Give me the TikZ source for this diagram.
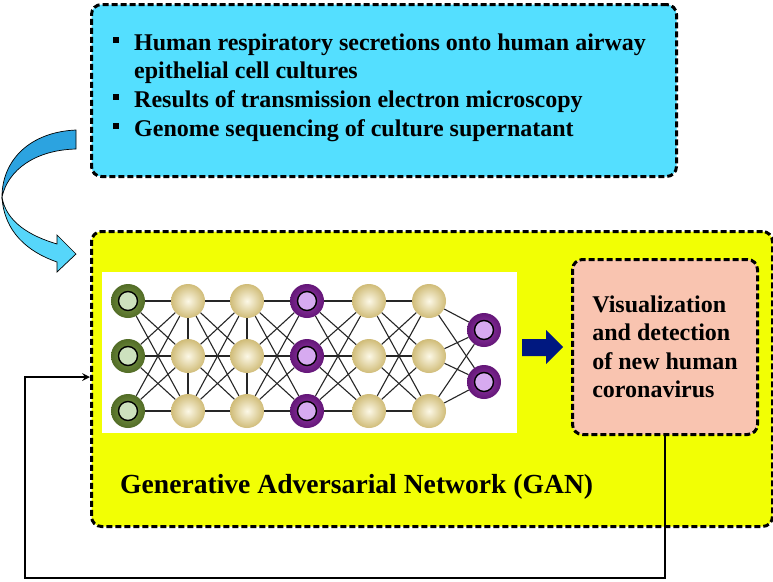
\documentclass[tikz,border=0pt]{standalone}
\usepackage{fontspec}
\setmainfont{Liberation Serif}
\usetikzlibrary{positioning}
\usetikzlibrary{calc}

\definecolor{srccyan}{RGB}{84,223,255}
\definecolor{bendback}{RGB}{44,163,224}
\definecolor{bendfront}{RGB}{86,214,250}
\definecolor{ganyellow}{RGB}{242,255,4}
\definecolor{vissalmon}{RGB}{249,196,176}
\definecolor{navyarrow}{RGB}{0,24,128}
\definecolor{tanlight}{RGB}{252,248,230}
\definecolor{tandark}{RGB}{208,188,120}
\definecolor{greenlight}{RGB}{125,155,75}
\definecolor{greendark}{RGB}{82,108,38}
\definecolor{greenring}{RGB}{205,225,190}
\definecolor{purplelight}{RGB}{150,60,170}
\definecolor{purpledark}{RGB}{100,22,120}
\definecolor{purplering}{RGB}{215,170,240}

\newcommand{\sqbullet}{\makebox[21pt][l]{\rule[7pt]{6pt}{6pt}}}

\begin{document}
\begin{tikzpicture}[x=1pt,y=-1pt,
  dashbox/.style={draw, rounded corners=10pt, dash pattern=on 6pt off 3pt,
                  line width=3pt, inner sep=0pt, anchor=north west},
  textline/.style={anchor=base west, inner sep=0pt,
                   font=\fontsize{24}{28.7}\selectfont\bfseries},
  neuron/.style={circle, minimum size=34pt, inner sep=0pt, shading=radial},
  ring/.style={path picture={\draw[line width=1.4pt, fill=#1]
                 (path picture bounding box.center) circle (9.5pt);}},
  inp/.style={neuron, inner color=greenlight, outer color=greendark, ring=greenring},
  hid/.style={neuron, inner color=tanlight, outer color=tandark},
  outp/.style={neuron, inner color=purplelight, outer color=purpledark, ring=purplering},
  link/.style={line width=1.1pt, black!85},
  feedback/.style={->, >=stealth, line width=2.4pt}]
  \useasboundingbox (0,0) rectangle (773,581);

  % source box
  \node[dashbox, fill=srccyan, minimum width=585pt, minimum height=172pt] (src) at (90,3) {};
  \node[textline] (l1) at (113,50) {\sqbullet Human respiratory secretions onto human airway};
  \node[textline] (l2) at (134,78) {epithelial cell cultures};
  \node[textline] (l3) at (113,107) {\sqbullet Results of transmission electron microscopy};
  \node[textline] (l4) at (113,136) {\sqbullet Genome sequencing of culture supernatant};

  % bent arrow
  \draw[line width=0.7pt, fill=bendback] (76,130) .. controls (30,132) and (2,160) .. (2,197)
        .. controls (8,170) and (35,150) .. (76,149) -- cycle;
  \draw[line width=0.7pt, fill=bendfront] (2,197) .. controls (4,232) and (28,252) .. (57,262)
        -- (57,272) -- (76,254) -- (57,235) -- (57,244)
        .. controls (30,236) and (6,222) .. (2,197) -- cycle;

  % GAN box
  \node[dashbox, fill=ganyellow, minimum width=681pt, minimum height=295pt] (gan) at (90,230) {};
  \node[fill=white, inner sep=0pt, anchor=north west, minimum width=415pt, minimum height=161pt] (net) at (102,272) {};
  \node[anchor=base west, inner sep=0pt, font=\fontsize{27.6}{32}\selectfont\bfseries] (gantxt) at (120,493)
       {Generative Adversarial Network (GAN)};

  % network
  \foreach \c/\x/\sty in {1/128/inp, 2/188/hid, 3/247/hid, 4/307/outp, 5/369/hid, 6/429/hid}{
    \foreach \r/\y in {1/301, 2/356, 3/411}
      \node[\sty] (n\c\r) at (\x,\y) {};
  }
  \node[outp] (n71) at (484,330) {};
  \node[outp] (n72) at (484,382) {};
  \foreach \a/\b in {1/2, 2/3, 3/4, 4/5, 5/6}
    \foreach \i in {1,2,3}
      \foreach \j in {1,2,3}
        \draw[link] (n\a\i) -- (n\b\j);
  \foreach \i in {1,2,3}
    \foreach \j in {1,2}
      \draw[link] (n6\i) -- (n7\j);
  \foreach \c in {2,3}
    \draw[link] (n\c1) -- (n\c2) -- (n\c3);

  % result box
  \fill[navyarrow] (522,339) -- (546,339) -- (546,330) -- (563,347) -- (546,364) -- (546,356) -- (522,356) -- cycle;
  \node[dashbox, fill=vissalmon, minimum width=185pt, minimum height=175pt] (vis) at (571,258) {};
  \node[align=left, inner sep=0pt, font=\fontsize{24}{28.5}\selectfont\bfseries] (vistxt) at (vis.center)
       {Visualization\\and detection\\of new human\\coronavirus};

  % feedback loop
  \coordinate (low) at (25,578);
  \draw[feedback] (vis.south) |- (low) |- (gan.west |- 0,377);
\end{tikzpicture}
\end{document}
